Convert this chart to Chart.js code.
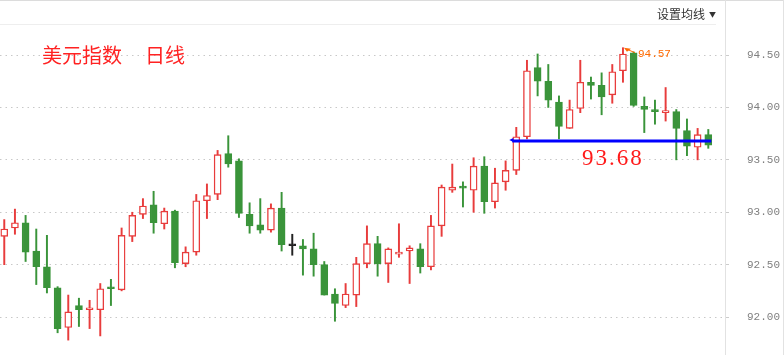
<!DOCTYPE html>
<html>
<head>
<meta charset="utf-8">
<title>美元指数 日线</title>
<script src="https://cdn.jsdelivr.net/npm/chart.js@4.4.0/dist/chart.umd.min.js"></script>
<style>
  html, body { margin: 0; padding: 0; background: #fff; }
  #wrap { position: relative; width: 784px; height: 355px; overflow: hidden; }
  #kline { position: absolute; left: 0; top: 0; }
  .line-top { position: absolute; left: 0; top: 0; width: 784px; height: 1px; background: #dcdcdc; }
  .line-menu { position: absolute; left: 0; top: 24px; width: 716px; height: 1px; background: #eeeeee; }
  .line-axis { position: absolute; left: 725px; top: 0; width: 1px; height: 355px; background: #e2e2e2; }
  .line-right { position: absolute; left: 783px; top: 0; width: 1px; height: 355px; background: #e2e2e2; }
  #menu { position: absolute; left: 657px; top: 5px; font-size: 12px; line-height: 18px;
          font-family: "Noto Sans CJK SC", sans-serif; color: #333; }
  #menu span { font-size: 7px; margin-left: 4px; vertical-align: 2px; }
  #title { position: absolute; left: 42px; top: 44px; font-size: 20px; line-height: 22px;
           font-family: "Noto Sans CJK SC", sans-serif; color: #ff2222; white-space: nowrap; }
  #title .period { margin-left: 23px; }
</style>
</head>
<body>
<div id="wrap">
  <canvas id="kline" width="784" height="355"></canvas>
  <div class="line-top"></div>
  <div class="line-menu"></div>
  <div class="line-axis"></div>
  <div class="line-right"></div>
  <div id="menu">设置均线<span>▼</span></div>
  <div id="title">美元指数<span class="period">日线</span></div>
</div>
<script>
// daily candles (oldest first)
const opens = [92.77, 92.85, 92.90, 92.63, 92.48, 92.28, 91.90, 92.11, 92.07, 92.07,
  92.28, 92.26, 92.77, 92.98, 93.07, 92.89, 93.01, 92.51, 92.62, 93.11,
  93.17, 93.56, 93.49, 92.98, 92.88, 92.83, 93.04, 92.68, 92.68, 92.65,
  92.50, 92.22, 92.11, 92.21, 92.51, 92.70, 92.51, 92.60, 92.63, 92.65,
  92.48, 92.87, 93.21, 93.24, 93.21, 93.44, 93.10, 93.29, 93.40, 93.72,
  94.38, 94.25, 94.05, 93.80, 93.99, 94.24, 94.21, 94.12, 94.35, 94.52,
  94.01, 93.97, 93.95, 93.96, 93.78, 93.62, 93.74];
const highs = [92.93, 93.03, 92.97, 92.84, 92.78, 92.29, 92.21, 92.18, 92.16, 92.32,
  92.36, 92.85, 93.00, 93.13, 93.20, 93.04, 93.02, 92.67, 93.17, 93.27,
  93.59, 93.73, 93.51, 93.09, 93.13, 93.08, 93.19, 92.79, 92.74, 92.80,
  92.53, 92.27, 92.32, 92.57, 92.87, 92.77, 92.66, 92.89, 92.68, 92.70,
  92.97, 93.26, 93.46, 93.29, 93.52, 93.53, 93.42, 93.49, 93.81, 94.45,
  94.51, 94.41, 94.11, 94.07, 94.45, 94.29, 94.33, 94.41, 94.57, 94.53,
  94.10, 94.07, 94.19, 93.98, 93.89, 93.80, 93.79];
const lows = [92.50, 92.79, 92.53, 92.31, 92.23, 91.85, 91.78, 91.91, 91.89, 91.82,
  92.11, 92.25, 92.72, 92.94, 92.80, 92.84, 92.47, 92.48, 92.59, 92.94,
  93.12, 93.43, 92.95, 92.80, 92.80, 92.81, 92.63, 92.59, 92.40, 92.39,
  92.21, 91.96, 92.09, 92.10, 92.47, 92.39, 92.33, 92.57, 92.32, 92.42,
  92.45, 92.77, 93.19, 93.05, 93.00, 92.99, 93.04, 93.21, 93.36, 93.70,
  94.11, 94.00, 93.70, 93.80, 93.95, 94.08, 93.93, 94.04, 94.24, 94.01,
  93.76, 93.84, 93.87, 93.50, 93.54, 93.50, 93.61];
const closes = [92.84, 92.90, 92.62, 92.48, 92.28, 91.89, 92.05, 92.07, 92.08, 92.27,
  92.27, 92.78, 92.97, 93.06, 92.90, 93.01, 92.52, 92.62, 93.11, 93.16,
  93.55, 93.46, 92.99, 92.87, 92.83, 93.04, 92.69, 92.68, 92.65, 92.50,
  92.21, 92.13, 92.22, 92.51, 92.70, 92.51, 92.65, 92.62, 92.66, 92.48,
  92.87, 93.24, 93.24, 93.23, 93.44, 93.10, 93.28, 93.40, 93.72, 94.35,
  94.25, 94.07, 93.82, 93.98, 94.24, 94.21, 94.10, 94.34, 94.51, 94.02,
  93.98, 93.96, 93.96, 93.80, 93.63, 93.74, 93.64];

const yTicks = [92.00, 92.50, 93.00, 93.50, 94.00, 94.50];

// horizontal level drawn by hand on the chart
const levelValue = 93.68;
const levelFrom = 48;
const levelTo = 66;

const upColor = '#e83c3c';
const downColor = '#3a943a';
const flatColor = '#222222';

const canvas = document.getElementById('kline');

function candleColor(i) {
  if (closes[i] > opens[i]) return upColor;
  if (closes[i] < opens[i]) return downColor;
  return flatColor;
}

const bodies = opens.map((o, i) => ({ x: i, y: [o, closes[i]] }));
const wicks = lows.map((l, i) => ({ x: i, y: [l, highs[i]] }));

const levelPlugin = {
  id: 'levelLine',
  afterDatasetsDraw(chart) {
    const { ctx, scales: { x, y } } = chart;
    const ly = y.getPixelForValue(levelValue);
    const x1 = x.getPixelForValue(levelFrom) - 4;
    const x2 = x.getPixelForValue(levelTo) + 3;

    ctx.save();
    ctx.strokeStyle = '#0000ff';
    ctx.lineWidth = 3;
    ctx.beginPath();
    ctx.moveTo(x1, ly);
    ctx.lineTo(x2, ly);
    ctx.stroke();
    ctx.fillStyle = '#0000ff';
    ctx.beginPath();
    ctx.moveTo(x1 - 3, ly - 1);
    ctx.lineTo(x1 + 1, ly - 3);
    ctx.lineTo(x1 + 1, ly + 1);
    ctx.fill();

    ctx.font = '23px "Liberation Serif"';
    ctx.letterSpacing = '2px';
    ctx.fillStyle = '#ff1a1a';
    ctx.textAlign = 'center';
    ctx.textBaseline = 'middle';
    ctx.fillText(levelValue.toFixed(2), (x1 + x2) / 2 + 1, ly + 18);
    ctx.letterSpacing = '0px';

    // highest high marker
    const top = Math.max(...highs);
    const hi = highs.indexOf(top);
    const hx = x.getPixelForValue(hi);
    const hy = y.getPixelForValue(top);
    ctx.fillStyle = '#ff6a00';
    ctx.strokeStyle = '#ff6a00';
    ctx.lineWidth = 1;
    ctx.beginPath();
    ctx.moveTo(hx + 1, hy);
    ctx.lineTo(hx + 8, hy + 1);
    ctx.lineTo(hx + 4, hy + 4);
    ctx.fill();
    ctx.beginPath();
    ctx.moveTo(hx + 5, hy + 2);
    ctx.lineTo(hx + 12, hy + 5);
    ctx.stroke();
    ctx.font = '11px "Liberation Mono"';
    ctx.textAlign = 'left';
    ctx.fillText(top.toFixed(2), hx + 15, hy + 6);
    ctx.restore();
  }
};

const kChart = new Chart(canvas, {
  type: 'bar',
  data: {
    datasets: [
      {
        label: 'body',
        data: bodies,
        backgroundColor: opens.map((o, i) => closes[i] > o ? '#ffffff' : candleColor(i)),
        borderColor: opens.map((o, i) => candleColor(i)),
        borderWidth: 1.4,
        borderSkipped: false,
        barThickness: 7,
        minBarLength: 2,
        grouped: false,
        order: 1
      },
      {
        label: 'wick',
        data: wicks,
        backgroundColor: lows.map((l, i) => candleColor(i)),
        borderWidth: 0,
        barThickness: 1.3,
        grouped: false,
        order: 2
      }
    ]
  },
  options: {
    responsive: false,
    animation: false,
    layout: { padding: { top: 26, left: 0, right: 0, bottom: 0 } },
    plugins: {
      legend: { display: false },
      tooltip: { enabled: false }
    },
    scales: {
      x: {
        type: 'linear',
        display: false,
        offset: false,
        min: -0.4,
        max: 67.66
      },
      y: {
        position: 'right',
        min: 91.638,
        max: 94.777,
        afterFit: (s) => {
          s.width = 58;
          s.paddingTop = 0;
          s.paddingBottom = 0;
        },
        afterBuildTicks: (s) => { s.ticks = yTicks.map(v => ({ value: v })); },
        grid: {
          color: '#c8c8c8',
          tickLength: 3,
          tickColor: '#cccccc',
          tickBorderDash: []
        },
        border: { display: false, dash: [1.5, 4] },
        ticks: {
          padding: 18,
          color: '#808080',
          font: { family: 'Liberation Mono', size: 11 },
          callback: (v) => Number(v).toFixed(2)
        }
      }
    }
  },
  plugins: [levelPlugin]
});
</script>
</body>
</html>
